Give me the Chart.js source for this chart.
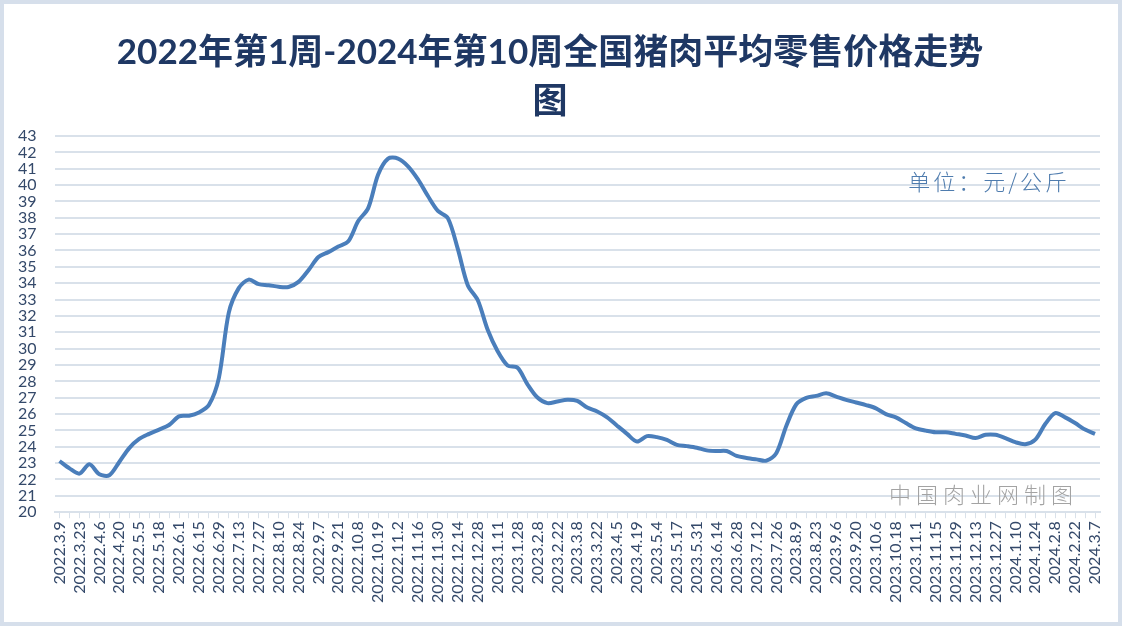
<!DOCTYPE html>
<html>
<head>
<meta charset="utf-8">
<script src="https://cdn.jsdelivr.net/npm/chart.js@4/dist/chart.umd.min.js"></script>
<style>
  html, body { margin: 0; padding: 0; background: #fff; }
  #wrap { width: 1122px; height: 626px; }
</style>
</head>
<body>
<div id="wrap"><canvas id="chart" width="1122" height="626"></canvas></div>
<script>
// weekly dates (only every other one is printed on the axis)
const weeks = [
  "2022.3.9", "2022.3.16", "2022.3.23", "2022.3.30", "2022.4.6", "2022.4.13", "2022.4.20", "2022.4.27",
  "2022.5.5", "2022.5.11", "2022.5.18", "2022.5.25", "2022.6.1", "2022.6.8", "2022.6.15", "2022.6.22",
  "2022.6.29", "2022.7.6", "2022.7.13", "2022.7.20", "2022.7.27", "2022.8.3", "2022.8.10", "2022.8.17",
  "2022.8.24", "2022.8.31", "2022.9.7", "2022.9.14", "2022.9.21", "2022.9.28", "2022.10.8", "2022.10.12",
  "2022.10.19", "2022.10.26", "2022.11.2", "2022.11.9", "2022.11.16", "2022.11.23", "2022.11.30", "2022.12.7",
  "2022.12.14", "2022.12.21", "2022.12.28", "2023.1.4", "2023.1.11", "2023.1.18", "2023.1.28", "2023.2.1",
  "2023.2.8", "2023.2.15", "2023.2.22", "2023.3.1", "2023.3.8", "2023.3.15", "2023.3.22", "2023.3.29",
  "2023.4.5", "2023.4.12", "2023.4.19", "2023.4.26", "2023.5.4", "2023.5.10", "2023.5.17", "2023.5.24",
  "2023.5.31", "2023.6.7", "2023.6.14", "2023.6.21", "2023.6.28", "2023.7.5", "2023.7.12", "2023.7.19",
  "2023.7.26", "2023.8.2", "2023.8.9", "2023.8.16", "2023.8.23", "2023.8.30", "2023.9.6", "2023.9.13",
  "2023.9.20", "2023.9.27", "2023.10.6", "2023.10.11", "2023.10.18", "2023.10.25", "2023.11.1", "2023.11.8",
  "2023.11.15", "2023.11.22", "2023.11.29", "2023.12.6", "2023.12.13", "2023.12.20", "2023.12.27", "2024.1.3",
  "2024.1.10", "2024.1.17", "2024.1.24", "2024.1.31", "2024.2.8", "2024.2.18", "2024.2.22", "2024.2.29",
  "2024.3.7"
];

// 全国猪肉平均零售价格 (元/公斤)
const prices = [
  23.13, 22.68, 22.36, 22.93, 22.32, 22.26, 23.07, 23.92, 24.48, 24.79,
  25.05, 25.33, 25.86, 25.90, 26.10, 26.55, 28.20, 32.20, 33.70, 34.22,
  33.94, 33.88, 33.78, 33.77, 34.08, 34.79, 35.60, 35.90, 36.24, 36.56,
  37.80, 38.59, 40.65, 41.62, 41.62, 41.15, 40.35, 39.33, 38.42, 37.98,
  36.10, 33.88, 32.97, 31.15, 29.84, 28.97, 28.83, 27.82, 27.01, 26.67,
  26.77, 26.87, 26.80, 26.40, 26.16, 25.80, 25.29, 24.79, 24.32, 24.65,
  24.59, 24.42, 24.12, 24.04, 23.94, 23.78, 23.74, 23.74, 23.44, 23.32,
  23.23, 23.15, 23.62, 25.29, 26.60, 26.99, 27.11, 27.27, 27.07, 26.87,
  26.71, 26.55, 26.35, 26.00, 25.80, 25.45, 25.13, 24.99, 24.89, 24.89,
  24.79, 24.69, 24.53, 24.73, 24.73, 24.53, 24.28, 24.16, 24.44, 25.39,
  26.06, 25.80, 25.45, 25.05, 24.79
];

const yMin = 20;
const yMax = 43;

const titleLines = ["2022年第1周-2024年第10周全国猪肉平均零售价格走势", "图"];
const unitNote = "单位：元/公斤";
const sourceNote = "中国肉业网制图";

const frameAndNotes = {
  id: "frameAndNotes",
  beforeDraw(chart) {
    const { ctx, width, height } = chart;
    ctx.save();
    ctx.fillStyle = "#ffffff";
    ctx.fillRect(0, 0, width, height);
    ctx.strokeStyle = "#d6dfeb";
    ctx.lineWidth = 4;
    ctx.strokeRect(2, 2, width - 4, height - 4);
    ctx.restore();
  },
  afterDraw(chart) {
    const { ctx, chartArea, scales } = chart;
    ctx.save();
    ctx.textAlign = "right";
    ctx.textBaseline = "middle";
    ctx.letterSpacing = "3px";
    ctx.font = "300 22px 'Noto Sans CJK SC'";
    ctx.fillStyle = "#4f7cae";
    ctx.fillText(unitNote, chartArea.right - 30, scales.y.getPixelForValue(40.2));
    ctx.letterSpacing = "5px";
    ctx.font = "300 22px 'Noto Sans CJK SC'";
    ctx.fillStyle = "#a3a3a3";
    ctx.fillText(sourceNote, chartArea.right - 22, scales.y.getPixelForValue(21.05));
    ctx.restore();
  }
};

new Chart(document.getElementById("chart").getContext("2d"), {
  type: "line",
  data: {
    labels: weeks,
    datasets: [{
      label: "全国猪肉平均零售价格",
      data: prices,
      borderColor: "#4a7ebb",
      borderWidth: 4,
      pointRadius: 0,
      tension: 0.3,
      fill: false
    }]
  },
  options: {
    responsive: false,
    animation: false,
    layout: { padding: { top: 28, left: 0, right: 22, bottom: 20 } },
    plugins: {
      legend: { display: false },
      tooltip: { enabled: false },
      title: {
        display: true,
        text: titleLines,
        color: "#1f3864",
        font: { family: "Lato, 'Noto Sans CJK SC'", size: 35, weight: "bold", lineHeight: 1.4 },
        padding: { top: 0, bottom: 10 }
      }
    },
    scales: {
      x: {
        offset: true,
        grid: { drawOnChartArea: false, drawTicks: true, tickLength: 6, color: "#d9e1ea" },
        border: { color: "#d9e1ea", width: 2 },
        ticks: {
          autoSkip: false,
          maxRotation: 90,
          minRotation: 90,
          padding: 3,
          color: "#34496a",
          font: { family: "Lato, 'Noto Sans'", size: 16 },
          callback(value, i) { return i % 2 === 0 ? weeks[i] : ""; }
        }
      },
      y: {
        min: yMin,
        max: yMax,
        grid: { color: "#d9e1ea", lineWidth: 2, drawTicks: false },
        border: { display: false },
        ticks: {
          stepSize: 1,
          autoSkip: false,
          padding: 18,
          color: "#34496a",
          font: { family: "Lato, 'Noto Sans'", size: 16 }
        }
      }
    }
  },
  plugins: [frameAndNotes]
});
</script>
</body>
</html>
